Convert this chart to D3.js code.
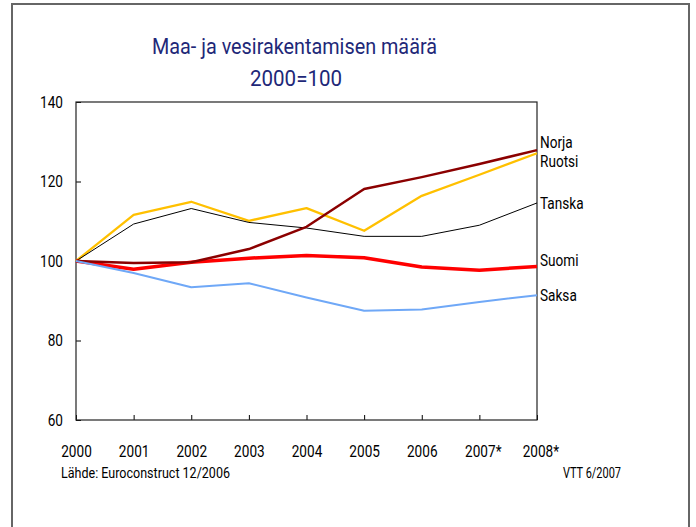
<!DOCTYPE html>
<html>
<head>
<meta charset="utf-8">
<script src="https://cdn.jsdelivr.net/npm/d3@7"></script>
<style>
  body { margin: 0; background: #fff; }
  svg text { font-family: Roboto, "Open Sans", sans-serif; }
</style>
</head>
<body>
<div id="chart"></div>
<script>
// years on the x axis (2007 and 2008 are forecasts)
var years = ["2000", "2001", "2002", "2003", "2004", "2005", "2006", "2007*", "2008*"];
var yTicks = [60, 80, 100, 120, 140];

// index values, 2000 = 100
var norja  = [100, 99.5, 99.7, 103.0, 108.6, 118.1, 121.1, 124.4, 127.9];
var ruotsi = [100, 111.6, 114.9, 110.1, 113.3, 107.6, 116.4, 121.7, 127.1];
var tanska = [100, 109.3, 113.2, 109.7, 108.3, 106.2, 106.2, 109.0, 114.6];
var suomi  = [100, 97.9, 99.7, 100.7, 101.4, 100.8, 98.5, 97.7, 98.6];
var saksa  = [100, 97.0, 93.4, 94.4, 90.8, 87.5, 87.8, 89.7, 91.4];

var seriesNames = ["Ruotsi", "Tanska", "Suomi", "Norja", "Saksa"];
var seriesValues = [ruotsi, tanska, suomi, norja, saksa];

var width = 696, height = 527;

var svg = d3.select("#chart").append("svg")
    .attr("width", width)
    .attr("height", height);

// the original uses a condensed font; squeeze text horizontally to imitate it
function condense(sel, factor) {
    sel.each(function () {
        var len = this.getComputedTextLength();
        d3.select(this)
            .attr("textLength", len * factor)
            .attr("lengthAdjust", "spacingAndGlyphs");
    });
}

// outer frame
svg.append("rect")
    .attr("x", 12).attr("y", 4)
    .attr("width", 677).attr("height", 540)
    .attr("fill", "none")
    .attr("stroke", "#666")
    .attr("stroke-width", 2);

// title
svg.append("text")
    .attr("x", 152).attr("y", 54)
    .attr("textLength", 285)
    .attr("lengthAdjust", "spacingAndGlyphs")
    .style("font-size", "22px")
    .style("fill", "#1e2878")
    .text("Maa- ja vesirakentamisen määrä");

svg.append("text")
    .attr("x", 250).attr("y", 86)
    .attr("textLength", 92)
    .attr("lengthAdjust", "spacingAndGlyphs")
    .style("font-size", "22px")
    .style("fill", "#1e2878")
    .text("2000=100");

var x = d3.scalePoint().domain(years).range([76, 537]);
var y = d3.scaleLinear().domain([60, 140]).range([420, 102]);

// axes, ticks pointing inward
var yAxis = svg.append("g")
    .attr("transform", "translate(76,0)")
    .call(d3.axisLeft(y).tickValues(yTicks).tickSizeInner(-5).tickSizeOuter(0).tickPadding(13));

var xAxis = svg.append("g")
    .attr("transform", "translate(0,420)")
    .call(d3.axisBottom(x).tickSizeInner(-5).tickSizeOuter(0).tickPadding(25));

[xAxis, yAxis].forEach(function (g) {
    g.select(".domain").remove();
    g.selectAll("line").attr("stroke", "#000");
    g.selectAll("text").style("font-size", "17px").attr("fill", "#000");
});

// nudge starred labels so the digits sit on the tick
xAxis.selectAll("text")
    .filter(function (d) { return d.indexOf("*") >= 0; })
    .attr("dx", "0.2em");

condense(xAxis.selectAll("text"), 0.8);
condense(yAxis.selectAll("text"), 0.8);

// plot box
svg.append("rect")
    .attr("x", 76).attr("y", y(140))
    .attr("width", 537 - 76).attr("height", y(60) - y(140))
    .attr("fill", "none")
    .attr("stroke", "#222")
    .attr("stroke-width", 1.2);

var colors = { Norja: "#8b0000", Ruotsi: "#ffc000", Tanska: "#000", Suomi: "#ff0000", Saksa: "#6fa8f7" };
var widths = { Norja: 2.5, Ruotsi: 2.3, Tanska: 1, Suomi: 3.5, Saksa: 2 };
// label offsets in px, labels were placed by hand in the original
var labelNudge = { Norja: -8, Ruotsi: 8, Tanska: 0, Suomi: -7, Saksa: 0 };

var line = d3.line()
    .x(function (d, i) { return x(years[i]); })
    .y(function (d) { return y(d); });

seriesNames.forEach(function (name, k) {
    svg.append("path")
        .datum(seriesValues[k])
        .attr("d", line)
        .attr("fill", "none")
        .attr("stroke", colors[name])
        .attr("stroke-width", widths[name])
        .attr("stroke-linejoin", "round");

    var last = seriesValues[k][seriesValues[k].length - 1];
    var label = svg.append("text")
        .attr("class", "series-label")
        .attr("x", 540)
        .attr("y", y(last) + labelNudge[name])
        .attr("dy", "0.35em")
        .style("font-size", "17px")
        .text(name);
    condense(label, 0.8);
});

// footnotes
svg.append("text")
    .attr("x", 61).attr("y", 478)
    .attr("textLength", 169)
    .attr("lengthAdjust", "spacingAndGlyphs")
    .style("font-size", "14px")
    .text("Lähde: Euroconstruct 12/2006");

svg.append("text")
    .attr("x", 563).attr("y", 478)
    .attr("textLength", 58)
    .attr("lengthAdjust", "spacingAndGlyphs")
    .style("font-size", "14px")
    .text("VTT 6/2007");
</script>
</body>
</html>
